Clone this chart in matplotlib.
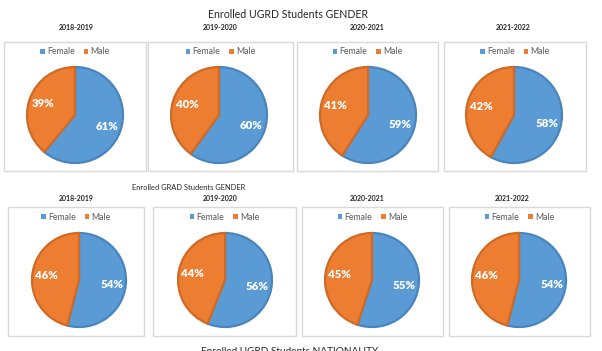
import matplotlib
matplotlib.use("Agg")
import matplotlib.pyplot as plt
from matplotlib.patches import Rectangle, Patch

plt.rcParams['font.family'] = ['Lato', 'DejaVu Sans']

# data
years = ['2018-2019', '2019-2020', '2020-2021', '2021-2022']
labels = ['Female', 'Male']
ugrd_female = [61, 60, 59, 58]
ugrd_male = [39, 40, 41, 42]
grad_female = [54, 56, 55, 54]
grad_male = [46, 44, 45, 46]

W, H = 602, 351
BLUE, ORANGE = '#5B9BD5', '#ED7D31'
BLUE_EDGE, ORANGE_EDGE = '#4A84BC', '#CF6A26'
GRAY_TXT = '#595959'

fig = plt.figure(figsize=(W / 100, H / 100), dpi=100)
fig.patch.set_facecolor('white')


def fx(x):
    return x / W


def fy(y):
    return 1 - y / H


def box(x0, y0, x1, y1):
    fig.patches.append(Rectangle((fx(x0), fy(y1)), fx(x1 - x0), (y1 - y0) / H,
                                 transform=fig.transFigure, fill=False,
                                 edgecolor='#D9D9D9', linewidth=1.0))


def pie(cx, cy, r, vals):
    pad = 3
    ax = fig.add_axes([fx(cx - r - pad), fy(cy + r + pad),
                       (2 * r + 2 * pad) / W, (2 * r + 2 * pad) / H])
    wedges, texts, autos = ax.pie(vals, colors=[BLUE, ORANGE], startangle=90,
                                  counterclock=False, radius=1,
                                  autopct='%.0f%%', pctdistance=0.7,
                                  wedgeprops=dict(linewidth=1.6))
    wedges[0].set_edgecolor(BLUE_EDGE)
    wedges[1].set_edgecolor(ORANGE_EDGE)
    for t in autos:
        t.set_color('white')
        t.set_fontweight('heavy')
        t.set_fontsize(8.2)
    lim = 1 + pad / r
    ax.set_xlim(-lim, lim)
    ax.set_ylim(-lim, lim)
    ax.set_aspect('equal')
    ax.axis('off')


def legend(cx, cy):
    handles = [Patch(facecolor=BLUE, edgecolor='none'),
               Patch(facecolor=ORANGE, edgecolor='none')]
    fig.legend(handles, labels, loc='center', bbox_to_anchor=(fx(cx), fy(cy)),
               ncol=2, frameon=False, fontsize=6.3, handlelength=0.55,
               handleheight=0.55, handletextpad=0.25, columnspacing=1.0,
               labelcolor=GRAY_TXT, borderpad=0)


# top row: UGRD
fig.text(fx(288), fy(14), 'Enrolled UGRD Students GENDER', ha='center',
         va='center', fontsize=7.6, color='#262626')
top_boxes = [(4, 146), (148, 293), (297, 438), (444, 586)]
top_cx = [75, 219, 368, 514]
sub_x = [76, 220, 367, 513]
for i in range(4):
    x0, x1 = top_boxes[i]
    box(x0, 42, x1, 171)
    fig.text(fx(sub_x[i]), fy(27), years[i], ha='center', va='center',
             fontsize=5.0, color='#262626', fontweight='bold')
    legend((x0 + x1) / 2, 52)
    pie(top_cx[i], 115, 48, [ugrd_female[i], ugrd_male[i]])

# bottom row: GRAD
fig.text(fx(189), fy(188), 'Enrolled GRAD Students GENDER', ha='center',
         va='center', fontsize=5.4, color='#262626')
bot_boxes = [(8, 144), (153, 296), (302, 443), (449, 590)]
bot_cx = [79, 225, 372, 519]
bsub_x = [76, 220, 367, 512]
for i in range(4):
    x0, x1 = bot_boxes[i]
    box(x0, 207, x1, 336)
    fig.text(fx(bsub_x[i]), fy(199), years[i], ha='center', va='center',
             fontsize=5.0, color='#262626', fontweight='bold')
    legend((x0 + x1) / 2, 217)
    pie(bot_cx[i], 280, 47, [grad_female[i], grad_male[i]])

# next chart's title, cut off at the bottom edge as in the screenshot
fig.text(fx(290), fy(347.5), 'Enrolled UGRD Students NATIONALITY', ha='center',
         va='top', fontsize=7.2, color='#262626')

fig.savefig('out.png', dpi=100)
